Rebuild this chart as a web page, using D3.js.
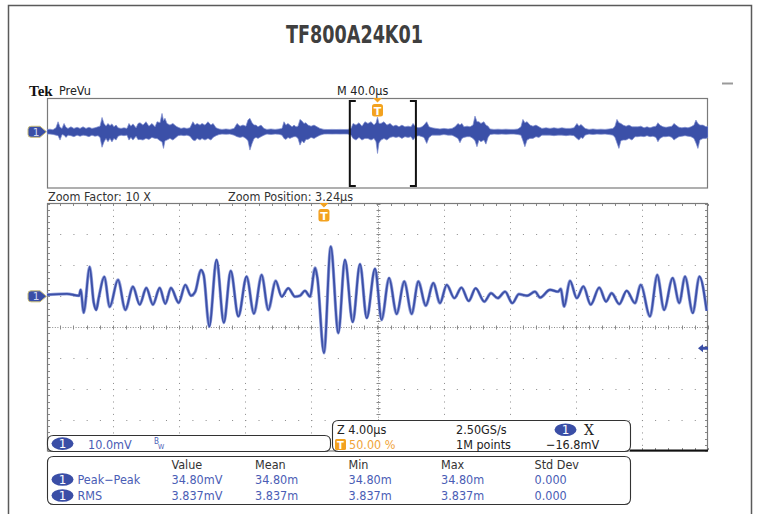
<!DOCTYPE html>
<html><head><meta charset="utf-8">
<script src="https://cdn.jsdelivr.net/npm/d3@7"></script>
<style>
body{margin:0;background:#fff;}
svg{display:block;}
text{font-family:"Liberation Sans Narrow","Arial Narrow","DejaVu Sans Condensed",sans-serif;}
</style></head><body>
<svg id="c" width="758" height="514"></svg>
<script>
// ---------------- DATA ----------------
const chartTitle = "TF800A24K01";
const timePerDivMain = 40.0;      // µs/div (record)
const zoomFactor = 10;
const zoomPosition = 3.24;        // µs, relative to trigger
const triggerPosition = 200;      // µs into record (50 %)
const recordLength = 400;         // µs
const voltsPerDiv = 10;           // mV/div
const triggerLevel = -16.8;       // mV
const gridCols = 10, gridRows = 8;
const screenVolt = [-50, 30];     // mV shown (ground 1 div above centre)

// zoom window waveform (µs from left edge of zoom window, mV)
const zoomTime = [0,1.21,1.94,2.04,2.22,2.58,2.83,2.98,3.13,3.47,
 3.79,4.30,4.74,5.20,5.61,6.01,6.41,6.82,7.16,7.50,
 7.97,8.37,8.71,8.97,9.32,9.48,9.82,10.26,10.70,11.12,
 11.58,12.08,12.52,12.99,13.39,13.84,14.20,14.60,15.01,15.31,
 15.61,15.92,16.22,16.36,16.76,17.17,17.63,18.03,18.50,18.94,
 19.35,19.85,20.25,20.70,21.16,21.62,22.07,22.47,22.92,23.38,
 23.78,24.19,24.65,25.08,25.52,25.94,26.46,26.87,27.27,27.72,
 28.16,28.56,29.05,29.53,29.84,30.44,30.93,31.09,31.29,31.65,
 32.06,32.46,32.90,33.42,33.83,34.17,34.63,35.08,35.58,35.93,
 36.49,36.93,37.34,37.86,38.26,38.61,39.08,39.48,39.92];
const zoomVolt = [0.5,0.8,0.2,2.1,-5.3,9.5,-2.1,-4.4,-0.5,6.3,
 -3.4,5.3,-4.4,3.1,-2.7,2.7,-2.7,2.7,-2.4,2.7,
 -2.1,3.7,0.2,1.5,8.5,6.9,-9.8,11.8,-8.5,8.2,
 -6.5,6.4,-5.6,6.9,-4.4,5.0,-0.1,2.6,-0.1,0.2,
 1.8,-0.1,9.2,6.0,-18.3,16.1,-11.9,11.8,-8.3,10.4,
 -7.0,8.9,-7.6,5.9,-5.7,4.8,-5.7,4.8,-3.0,4.3,
 -2.2,3.7,-0.6,2.8,-1.5,2.6,-1.7,1.0,-0.6,1.5,
 -2.2,0.7,0.2,1.5,-0.4,2.1,1.5,2.4,-3.3,5.0,
 -0.6,3.2,-2.7,2.8,-1.7,1.0,-2.5,1.8,-2.2,3.7,
 -6.5,6.9,-4.4,5.9,-2.2,6.4,-5.4,6.4,-4.7];

// overview (PreVu) envelope: µs into record, upper / lower mV
const overviewTime = [0,1.8,3.6,5.4,6.7,7.9,9.1,10.3,11.5,12.7,
 14.5,16.3,18.2,20.0,21.8,23.6,25.4,27.2,29.0,30.9,
 32.1,33.3,34.5,35.7,36.9,38.1,39.3,40.5,41.8,43.0,
 44.8,46.6,48.4,49.6,50.8,52.0,53.9,55.1,56.3,58.1,
 59.9,61.7,63.5,65.4,66.6,68.4,69.6,70.5,71.4,72.6,
 74.4,76.2,78.1,79.3,81.1,82.9,84.7,86.5,88.3,89.6,
 90.8,92.6,93.8,95.6,97.4,99.2,100.5,102.3,104.1,105.9,
 108.3,110.7,113.2,115.0,116.8,118.6,120.4,121.6,122.8,124.1,
 125.3,126.5,127.7,129.5,131.3,133.1,135.5,138.0,140.4,142.2,
 143.4,144.6,145.8,147.0,148.3,149.5,150.7,151.9,153.1,154.3,
 155.5,156.7,157.9,159.8,161.6,163.4,165.2,167.6,170.0,172.5,
 174.9,177.3,179.7,182.1,184.0,185.2,187.0,188.8,190.6,192.4,
 194.2,196.1,197.9,199.1,200.0,200.9,202.1,203.9,205.7,207.6,
 209.4,211.2,213.0,214.8,216.6,218.5,220.3,221.5,223.3,225.1,
 226.9,228.1,229.8,231.2,233.0,235.4,237.8,240.2,242.7,245.1,
 246.9,248.7,249.9,251.1,252.3,254.2,256.0,257.8,259.0,260.2,
 261.4,262.6,264.4,265.6,266.9,268.1,270.5,272.9,275.3,277.7,
 280.2,282.6,285.0,286.8,288.0,289.2,290.5,292.3,294.1,295.9,
 297.7,299.5,302.0,304.4,306.8,309.2,311.6,314.1,316.5,318.9,
 320.7,321.9,323.1,324.3,325.6,328.0,330.4,332.8,335.2,337.7,
 340.1,342.5,343.7,344.9,346.1,347.3,348.6,350.4,352.2,354.0,
 355.8,357.6,359.4,361.3,363.1,364.9,366.7,368.5,369.7,370.9,
 372.8,374.6,376.4,378.2,379.4,380.6,382.4,384.2,386.1,387.9,
 389.7,391.5,392.7,393.9,395.1,397.0,398.8,400.0];
const overviewHigh = [2.0,2.3,1.8,3.5,8.9,4.0,3.0,7.4,4.0,3.0,
 4.4,3.0,4.0,3.0,4.4,3.0,4.0,3.0,3.5,4.4,
 5.0,12.7,7.4,5.0,7.4,5.5,7.0,4.4,6.0,3.5,
 3.0,3.5,3.0,7.4,5.0,7.0,3.5,7.4,8.0,5.9,
 8.9,5.0,7.4,4.4,8.9,8.0,16.3,10.0,12.0,7.4,
 6.0,7.4,5.0,4.0,3.0,3.5,3.0,3.5,8.9,6.0,
 7.4,5.9,7.4,5.9,8.9,6.0,7.4,3.5,2.5,2.1,
 2.5,2.1,3.0,7.4,5.0,6.0,5.0,10.4,11.9,8.0,
 6.0,5.9,4.4,5.9,3.0,2.1,2.5,2.1,2.5,3.0,
 8.9,5.9,7.4,5.9,4.4,5.9,4.4,5.0,11.0,9.5,
 7.4,8.0,5.9,5.0,5.9,4.4,3.0,2.1,2.0,2.1,
 2.0,2.1,2.0,2.1,3.0,7.4,5.9,8.0,5.0,8.9,
 7.4,8.9,6.0,8.0,13.0,7.4,7.4,8.9,5.9,7.4,
 5.0,5.9,4.4,5.9,4.4,5.0,4.4,7.4,4.0,3.5,
 4.4,5.9,8.9,4.4,3.5,3.0,2.5,3.0,2.5,3.0,
 4.4,7.4,6.0,7.4,4.4,5.0,4.4,6.0,13.9,9.0,
 8.9,7.4,8.9,6.0,5.0,2.5,2.1,2.3,2.1,2.3,
 2.1,2.1,2.5,4.4,11.0,8.0,9.0,5.9,5.0,5.9,
 4.4,3.0,3.5,3.0,3.5,3.0,3.5,3.0,3.0,3.5,
 7.4,5.0,6.5,5.0,3.0,2.1,2.5,2.1,2.3,2.1,
 2.5,3.0,5.0,11.0,8.0,7.4,5.9,5.0,5.9,4.4,
 4.4,4.4,5.0,3.5,4.4,3.5,4.4,5.0,8.0,5.9,
 4.4,4.0,4.4,5.0,7.4,5.9,4.0,3.5,4.0,3.5,
 4.4,5.9,10.4,7.4,5.9,5.9,4.4,5.0];
const overviewLow = [-2.0,-2.1,-2.4,-3.0,-3.5,-7.4,-2.5,-3.0,-5.0,-3.0,
 -3.5,-4.4,-3.0,-4.0,-3.0,-3.5,-4.4,-3.0,-4.0,-3.5,
 -5.0,-13.8,-9.0,-6.0,-8.9,-6.0,-9.0,-5.9,-7.4,-4.0,
 -3.0,-3.5,-3.0,-7.4,-5.0,-7.4,-4.0,-7.0,-6.8,-7.4,
 -5.9,-6.8,-5.0,-5.9,-6.0,-8.0,-9.0,-14.8,-8.0,-7.4,
 -5.9,-7.4,-5.0,-3.5,-3.0,-3.5,-3.0,-4.0,-7.4,-8.0,
 -5.9,-7.4,-6.0,-7.4,-5.9,-7.4,-5.0,-3.5,-2.5,-2.1,
 -2.3,-2.1,-3.0,-4.4,-5.0,-4.4,-6.0,-8.0,-16.3,-10.4,
 -6.0,-5.0,-5.9,-4.4,-3.0,-2.1,-2.5,-2.1,-2.3,-3.0,
 -5.9,-6.8,-5.0,-5.9,-5.0,-4.4,-4.4,-5.9,-11.9,-8.0,
 -10.0,-6.8,-6.8,-5.0,-6.0,-4.4,-3.0,-2.1,-2.0,-2.1,
 -2.0,-2.1,-2.0,-2.1,-3.0,-5.9,-7.4,-5.0,-7.4,-5.9,
 -6.0,-7.4,-5.9,-8.9,-19.3,-10.0,-7.4,-6.0,-7.4,-5.0,
 -4.4,-5.0,-4.4,-5.9,-4.4,-5.0,-4.4,-7.4,-4.0,-3.5,
 -4.4,-5.0,-10.4,-5.0,-3.0,-3.0,-3.0,-2.5,-3.0,-3.0,
 -4.4,-6.0,-9.8,-6.0,-5.0,-4.4,-4.4,-5.9,-8.0,-13.3,
 -7.4,-8.9,-7.4,-11.0,-5.0,-2.5,-2.1,-2.3,-2.1,-2.3,
 -2.1,-2.1,-2.5,-3.0,-8.0,-13.3,-7.4,-5.9,-5.9,-4.4,
 -5.0,-3.0,-3.0,-3.0,-3.5,-3.0,-3.0,-3.5,-3.0,-3.5,
 -6.0,-7.4,-5.0,-6.0,-3.0,-2.1,-2.5,-2.1,-2.3,-2.1,
 -2.5,-3.0,-5.0,-10.0,-14.8,-8.0,-7.4,-7.4,-5.9,-7.4,
 -4.4,-4.4,-4.0,-4.4,-3.5,-4.4,-4.0,-5.0,-8.9,-6.0,
 -4.4,-4.4,-4.0,-5.0,-7.4,-6.0,-4.4,-4.0,-3.5,-4.0,
 -4.4,-5.9,-10.0,-14.8,-7.4,-5.9,-5.9,-5.0];

// readouts
const channelLabel = "1";
const channelScale = "10.0mV";
const zoomTimebase = "Z 4.00µs";
const triggerPosLabel = "50.00 %";
const sampleRate = "2.50GS/s";
const recordPoints = "1M points";
const triggerLevelLabel = "\u221216.8mV";
const measHeaders = ["Value","Mean","Min","Max","Std Dev"];
const measNames = ["Peak\u2212Peak","RMS"];
const measValues = [["34.80mV","34.80m","34.80m","34.80m","0.000"],
                    ["3.837mV","3.837m","3.837m","3.837m","0.000"]];

// ---------------- DRAW ----------------
const svg = d3.select("#c");
const BLUE = "#3a4ea6", BLUE_TXT = "#4a5db5", ORANGE = "#f3a21f", GRID = "#8a8a8a";
const FS = 12.5;

// outer frame
svg.append("path").attr("d","M8.5,514 V5.5 H751.5 V514").attr("fill","none").attr("stroke","#5a5a5a").attr("stroke-width",1.5);
svg.append("line").attr("x1",722).attr("x2",733).attr("y1",83.5).attr("y2",83.5).attr("stroke","#9a9a9a").attr("stroke-width",2);

svg.append("text").attr("x",354.5).attr("y",43).attr("text-anchor","middle")
  .attr("font-size",24).attr("font-weight","bold").attr("fill","#3f3f3f")
  .attr("textLength",137).attr("lengthAdjust","spacingAndGlyphs").text(chartTitle);

svg.append("text").attr("x",29).attr("y",96).attr("font-size",15).attr("font-weight","bold")
  .style("font-family","'Liberation Serif','DejaVu Serif',serif").attr("fill","#111").text("Tek");
svg.append("text").attr("x",59).attr("y",95).attr("font-size",FS).attr("fill","#222").text("PreVu");
svg.append("text").attr("x",337).attr("y",95).attr("font-size",FS).attr("fill","#222").text("M " + timePerDivMain.toFixed(1) + "µs");

// ---- overview panel ----
const ovX = d3.scaleLinear().domain([0, recordLength]).range([47, 708]);
const ovY = d3.scaleLinear().domain(screenVolt).range([188, 98]);
svg.append("clipPath").attr("id","ovclip").append("rect").attr("x",47).attr("y",98).attr("width",661).attr("height",90);
svg.append("rect").attr("x",47.5).attr("y",98.5).attr("width",660).attr("height",89.5)
  .attr("fill","#fff").attr("stroke","#7a7a7a").attr("stroke-width",1.2);

const ovData = overviewTime.map((t,i)=>({t, hi: overviewHigh[i], lo: overviewLow[i]}));
const ovArea = d3.area().x(d=>ovX(d.t)).y0(d=>ovY(d.lo)).y1(d=>ovY(d.hi)).curve(d3.curveLinear);
svg.append("path").datum(ovData).attr("clip-path","url(#ovclip)").attr("d",ovArea)
  .attr("fill","#3b50a8").attr("stroke","#7f8ed0").attr("stroke-width",0.7);

// zoom bracket
const zStart = triggerPosition + zoomPosition - recordLength/zoomFactor/2;
const zEnd = triggerPosition + zoomPosition + recordLength/zoomFactor/2;
const bx0 = ovX(zStart), bx1 = ovX(zEnd);
svg.append("path").attr("d",`M${bx0+6},101 H${bx0} V186 H${bx0+6}`).attr("fill","none").attr("stroke","#111").attr("stroke-width",2);
svg.append("path").attr("d",`M${bx1-6},101 H${bx1} V186 H${bx1-6}`).attr("fill","none").attr("stroke","#111").attr("stroke-width",2);

function trigMarker(x, top){
  const g = svg.append("g");
  g.append("path").attr("d",`M${x-4.5},${top} L${x+4.5},${top} L${x},${top+4.5} Z`).attr("fill",ORANGE);
  g.append("rect").attr("x",x-5.5).attr("y",top+6).attr("width",11).attr("height",12.5).attr("rx",2.5).attr("fill",ORANGE);
  g.append("text").attr("x",x).attr("y",top+16.5).attr("text-anchor","middle").attr("font-size",11).attr("font-weight","bold")
   .style("font-family","'DejaVu Sans',sans-serif").attr("fill","#fff").text("T");
}
function chMarker(cy){
  const g = svg.append("g");
  g.append("path").attr("d",`M31,${cy-5.5} H40 L46.5,${cy} L40,${cy+5.5} H31 Q28,${cy+5.5} 28,${cy+2.5} V${cy-2.5} Q28,${cy-5.5} 31,${cy-5.5} Z`)
   .attr("fill",BLUE).attr("stroke","#c9bd78").attr("stroke-width",1);
  g.append("text").attr("x",36).attr("y",cy+4).attr("text-anchor","middle").attr("font-size",10.5)
   .style("font-family","'DejaVu Sans',sans-serif").attr("fill","#cfd6f2").text(channelLabel);
}
trigMarker(ovX(triggerPosition), 98);
chMarker(ovY(0));

// labels between panels
svg.append("text").attr("x",48).attr("y",201).attr("font-size",FS).attr("fill","#333").text("Zoom Factor: " + zoomFactor + " X");
svg.append("text").attr("x",228).attr("y",201).attr("font-size",FS).attr("fill","#333").text("Zoom Position: " + zoomPosition.toFixed(2) + "µs");

// ---- main (zoom) panel ----
const mX = d3.scaleLinear().domain([0, recordLength/zoomFactor]).range([47, 708]);
const mY = d3.scaleLinear().domain(screenVolt).range([451, 203.5]);
const divW = (mX.range()[1]-mX.range()[0])/gridCols;
const divH = (mY.range()[0]-mY.range()[1])/gridRows;
svg.append("clipPath").attr("id","mclip").append("rect").attr("x",47).attr("y",203.5).attr("width",661).attr("height",247.5);

const grid = svg.append("g");
const xTicks = d3.range(0, recordLength/zoomFactor + 0.001, recordLength/zoomFactor/gridCols);
const yTicks = d3.range(screenVolt[0], screenVolt[1] + 0.001, voltsPerDiv);
const xc = mX(recordLength/zoomFactor/2), yc = mY((screenVolt[0]+screenVolt[1])/2);
xTicks.slice(1,-1).forEach(t=>{
  const x = Math.round(mX(t))+0.5;
  grid.append("line").attr("x1",x).attr("x2",x).attr("y1",mY.range()[1]).attr("y2",mY.range()[0])
    .attr("stroke",GRID).attr("stroke-width",1).attr("stroke-dasharray",(Math.abs(x-xc)<2)?"1,1.6":`1,${divH/5-1}`);
});
yTicks.slice(1,-1).forEach(v=>{
  const y = Math.round(mY(v))+0.5;
  grid.append("line").attr("x1",mX.range()[0]).attr("x2",mX.range()[1]).attr("y1",y).attr("y2",y)
    .attr("stroke",GRID).attr("stroke-width",1).attr("stroke-dasharray",(Math.abs(y-yc)<2)?"1,1.6":`1,${divW/5-1}`);
});
const cx0 = Math.round(xc)+0.5, cy0 = Math.round(yc)+0.5;
d3.range(0, gridCols*5+1).forEach(i=>{
  const x = Math.round(mX.range()[0] + i*divW/5)+0.5;
  grid.append("line").attr("x1",x).attr("x2",x).attr("y1",cy0-2).attr("y2",cy0+2).attr("stroke",GRID);
  grid.append("line").attr("x1",x).attr("x2",x).attr("y1",204).attr("y2",206).attr("stroke",GRID);
  grid.append("line").attr("x1",x).attr("x2",x).attr("y1",448).attr("y2",450).attr("stroke",GRID);
});
d3.range(0, gridRows*5+1).forEach(i=>{
  const y = Math.round(mY.range()[1] + i*divH/5)+0.5;
  grid.append("line").attr("x1",cx0-2).attr("x2",cx0+2).attr("y1",y).attr("y2",y).attr("stroke",GRID);
  grid.append("line").attr("x1",48).attr("x2",50).attr("y1",y).attr("y2",y).attr("stroke",GRID);
  grid.append("line").attr("x1",705).attr("x2",707).attr("y1",y).attr("y2",y).attr("stroke",GRID);
});
svg.append("rect").attr("x",47.5).attr("y",203.5).attr("width",660).attr("height",247.5)
  .attr("fill","none").attr("stroke","#7a7a7a").attr("stroke-width",1.2);

const zData = zoomTime.map((t,i)=>({t, v: zoomVolt[i]}));
const zLine = d3.line().x(d=>mX(d.t)).y(d=>mY(d.v)).curve(d3.curveMonotoneX);
svg.append("path").datum(zData).attr("clip-path","url(#mclip)").attr("d",zLine)
  .attr("fill","none").attr("stroke","#97a4dc").attr("stroke-width",3.2).attr("stroke-linejoin","round");
svg.append("path").datum(zData).attr("clip-path","url(#mclip)").attr("d",zLine)
  .attr("fill","none").attr("stroke","#3c50a8").attr("stroke-width",1.9).attr("stroke-linejoin","round");

trigMarker(mX(triggerPosition - zStart), 203);
chMarker(mY(0));
const ty = mY(triggerLevel);
svg.append("path").attr("d",`M698,${ty} L703,${ty-4} V${ty-1.5} H708 V${ty+1.5} H703 V${ty+4} Z`).attr("fill",BLUE);

// ---- readout boxes ----
function rbox(x0,y0,x1,y1){
  svg.append("path").attr("d",`M${x0+6},${y0} H${x1-6} Q${x1},${y0} ${x1},${y0+6} V${y1-6} Q${x1},${y1} ${x1-6},${y1} H${x0+6} Q${x0},${y1} ${x0},${y1-6} V${y0+6} Q${x0},${y0} ${x0+6},${y0} Z`)
   .attr("fill","#fff").attr("stroke","#333").attr("stroke-width",1.1);
}
function oval(cx,cy){
  svg.append("ellipse").attr("cx",cx).attr("cy",cy).attr("rx",11).attr("ry",6.3).attr("fill",BLUE);
  svg.append("text").attr("x",cx).attr("y",cy+4.5).attr("text-anchor","middle").attr("font-size",12)
   .style("font-family","'DejaVu Sans',sans-serif").attr("fill","#fff").text(channelLabel);
}
svg.append("line").attr("x1",630).attr("x2",708).attr("y1",450.5).attr("y2",450.5).attr("stroke","#111").attr("stroke-width",2);
rbox(47.5,435.5,330.5,451.5);
oval(62.5,443.6);
svg.append("text").attr("x",88).attr("y",448.5).attr("font-size",FS).attr("fill",BLUE_TXT).text(channelScale);
svg.append("text").attr("x",154).attr("y",444).attr("font-size",8).attr("fill",BLUE_TXT).text("B");
svg.append("text").attr("x",158).attr("y",448.5).attr("font-size",7).attr("fill",BLUE_TXT).text("W");

rbox(332.5,420.5,630.5,451.5);
svg.append("text").attr("x",337).attr("y",433.5).attr("font-size",FS).attr("fill","#222").text(zoomTimebase);
svg.append("rect").attr("x",335).attr("y",439).attr("width",11).attr("height",11).attr("rx",1.5).attr("fill",ORANGE);
svg.append("text").attr("x",340.5).attr("y",448.5).attr("text-anchor","middle").attr("font-size",10).attr("font-weight","bold")
   .style("font-family","'DejaVu Sans',sans-serif").attr("fill","#fff").text("T");
svg.append("text").attr("x",349).attr("y",449).attr("font-size",FS).attr("fill","#f0a43a").text(triggerPosLabel);
svg.append("text").attr("x",456).attr("y",433.5).attr("font-size",FS).attr("fill","#222").text(sampleRate);
svg.append("text").attr("x",456).attr("y",449).attr("font-size",FS).attr("fill","#222").text(recordPoints);
oval(565.5,429.8);
svg.append("text").attr("x",584).attr("y",435).attr("font-size",14).style("font-family","'DejaVu Serif',serif").attr("fill","#222").text("X");
svg.append("text").attr("x",546).attr("y",449).attr("font-size",FS).attr("fill","#222").text(triggerLevelLabel);

rbox(47.5,456.5,630.5,504.5);
const colX = [171.5,255,348.5,441,534.5];
measHeaders.forEach((h,i)=>svg.append("text").attr("x",colX[i]).attr("y",468.5).attr("font-size",FS).attr("fill","#333").text(h));
measNames.forEach((n,r)=>{
  const y = 484 + r*16;
  oval(62.5, y-4.5);
  svg.append("text").attr("x",77.5).attr("y",y).attr("font-size",FS).attr("fill",BLUE_TXT).text(n);
  measValues[r].forEach((v,i)=>svg.append("text").attr("x",colX[i]).attr("y",y).attr("font-size",FS).attr("fill",BLUE_TXT).text(v));
});
</script>
</body></html>
